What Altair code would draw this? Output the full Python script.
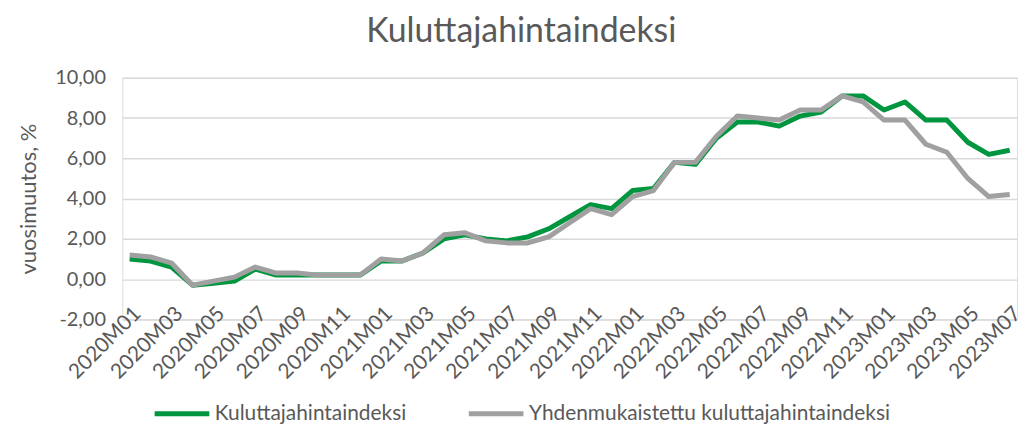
import altair as alt
import pandas as pd

months = [f"{y}M{m:02d}" for y in (2020, 2021, 2022, 2023) for m in range(1, 13)][:43]
cpi = [1.0, 0.9, 0.6, -0.3, -0.2, -0.1, 0.5, 0.2, 0.2, 0.2, 0.2, 0.2,
       0.9, 0.9, 1.3, 2.0, 2.2, 2.0, 1.9, 2.1, 2.5, 3.1, 3.7, 3.5,
       4.4, 4.5, 5.8, 5.7, 7.0, 7.8, 7.8, 7.6, 8.1, 8.3, 9.1, 9.1,
       8.4, 8.8, 7.9, 7.9, 6.8, 6.2, 6.4]
hicp = [1.2, 1.1, 0.8, -0.3, -0.1, 0.1, 0.6, 0.3, 0.3, 0.2, 0.2, 0.2,
        1.0, 0.9, 1.3, 2.2, 2.3, 1.9, 1.8, 1.8, 2.1, 2.8, 3.5, 3.2,
        4.1, 4.4, 5.8, 5.8, 7.1, 8.1, 8.0, 7.9, 8.4, 8.4, 9.1, 8.8,
        7.9, 7.9, 6.7, 6.3, 5.0, 4.1, 4.2]
series = ["Kuluttajahintaindeksi", "Yhdenmukaistettu kuluttajahintaindeksi"]
colors = ["#00953F", "#A0A0A0"]
tick_months = months[::2]

rows = []
for i, m in enumerate(months):
    rows.append({"month": m, "value": cpi[i], "series": series[0], "order": 0})
    rows.append({"month": m, "value": hicp[i], "series": series[1], "order": 1})
df = pd.DataFrame(rows)

FONT = "Lato"
GRAY = "#595959"

chart = alt.Chart(df).mark_line(strokeWidth=5, strokeJoin="round").encode(
    x=alt.X("month:O", sort=months,
            scale=alt.Scale(type="point", padding=0.35),
            axis=alt.Axis(title=None, values=tick_months, labelAngle=-45,
                          labelAlign="right", labelBaseline="top",
                          labelFontSize=21, labelColor=GRAY, labelFont=FONT,
                          ticks=False, domain=False, labelPadding=-17,
                          labelOverlap=False, grid=False)),
    y=alt.Y("value:Q",
            scale=alt.Scale(domain=[-2, 10], nice=False, zero=False),
            axis=alt.Axis(title="vuosimuutos, %", values=[-2, 0, 2, 4, 6, 8, 10],
                          labelExpr="replace(replace(format(datum.value, '.2f'), '.', ','), '\u2212', '-')",
                          titleFontSize=22, titleFont=FONT, titleColor=GRAY,
                          titleFontWeight="normal", titlePadding=14,
                          labelFontSize=20, labelFont=FONT, labelColor=GRAY,
                          labelPadding=17,
                          ticks=False, domain=False, gridColor="#D9D9D9",
                          gridWidth=1.5)),
    color=alt.Color("series:N", scale=alt.Scale(domain=series, range=colors),
                    legend=alt.Legend(title=None, orient="none",
                                      direction="horizontal",
                                      legendX=30, legendY=308,
                                      symbolType="stroke", symbolSize=3025,
                                      symbolStrokeWidth=5,
                                      labelFontSize=21, labelFont=FONT,
                                      labelColor=GRAY, columnPadding=52,
                                      labelOffset=3, labelLimit=500)),
    order=alt.Order("order:Q"),
    detail="series:N",
).properties(
    width=900, height=243,
    title=alt.TitleParams("Kuluttajahintaindeksi", fontSize=34, font=FONT,
                          color=GRAY, fontWeight="normal", anchor="middle",
                          frame="bounds", offset=19),
).configure_view(stroke=None).configure(padding={"left": 10, "top": 6, "right": 0, "bottom": 0})

chart.save("out.html", embed_options={"renderer": "svg", "actions": False})
